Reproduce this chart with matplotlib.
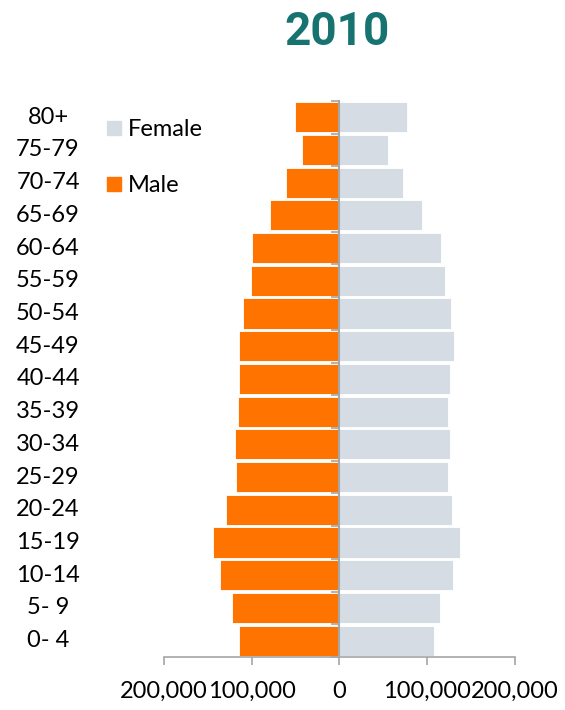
import matplotlib
matplotlib.use("Agg")
import matplotlib.pyplot as plt
from matplotlib.lines import Line2D
from matplotlib.transforms import blended_transform_factory
import numpy as np

plt.rcParams['font.family'] = ['Lato', 'DejaVu Sans']

ages = ["0- 4", "5- 9", "10-14", "15-19", "20-24", "25-29", "30-34", "35-39",
        "40-44", "45-49", "50-54", "55-59", "60-64", "65-69", "70-74", "75-79", "80+"]
male = [114300, 122300, 136000, 143600, 129500, 117700, 118500, 115000,
        114300, 114300, 109700, 101000, 99000, 79000, 61000, 42600, 50000]
female = [107800, 115000, 129500, 137500, 128800, 123800, 126500, 123800,
          126000, 131000, 127600, 120000, 116500, 94000, 73000, 56000, 77000]
xticks = [-200000, -100000, 0, 100000, 200000]

orange = "#FF7300"
grey_blue = "#D6DCE4"
axis_grey = "#A6A6A6"
fs = 17

fig = plt.figure(figsize=(5.65, 7.1), dpi=100)
ax = fig.add_axes([0.29, 0.0746, 0.621, 0.7834])

y = np.arange(len(ages))
ax.barh(y, [-m for m in male], height=0.92, color=orange, edgecolor="white", linewidth=0.6)
ax.barh(y, female, height=0.92, color=grey_blue, edgecolor="white", linewidth=0.6)

ax.set_xlim(-200000, 200000)
ax.set_ylim(-0.5, len(ages) - 0.5)

for s in ["top", "right"]:
    ax.spines[s].set_visible(False)
ax.spines["left"].set_position(("data", 0))
ax.spines["left"].set_color(axis_grey)
ax.spines["left"].set_linewidth(1.5)
ax.spines["left"].set_zorder(3)
ax.spines["bottom"].set_color(axis_grey)
ax.spines["bottom"].set_linewidth(1.2)

ax.set_yticks(np.arange(len(ages) + 1) - 0.5)
ax.set_yticklabels([])
ax.tick_params(axis="y", length=6, width=1.2, color=axis_grey, direction="out")

ax.set_xticks(xticks)
ax.set_xticklabels([f"{abs(v):,}" for v in xticks], fontsize=fs)
ax.tick_params(axis="x", length=6, width=1.2, color=axis_grey, pad=11)

tr = blended_transform_factory(fig.transFigure, ax.transData)
for yi, lab in zip(y, ages):
    ax.text(0.085, yi, lab, transform=tr, ha="center", va="center", fontsize=fs)

handles = [Line2D([], [], marker="s", linestyle="none", markersize=10, color=grey_blue),
           Line2D([], [], marker="s", linestyle="none", markersize=10, color=orange)]
fig.legend(handles, ["Female", "Male"], loc="upper left", bbox_to_anchor=(0.17, 0.846),
           frameon=False, fontsize=fs, labelspacing=1.5, handletextpad=0.25,
           handlelength=0.7, borderaxespad=0)

fig.text(0.597, 0.955, "2010", ha="center", va="center", fontsize=33,
         fontweight="bold", color="#177370", family=["Roboto", "DejaVu Sans"])

fig.savefig("out.png", dpi=100)
